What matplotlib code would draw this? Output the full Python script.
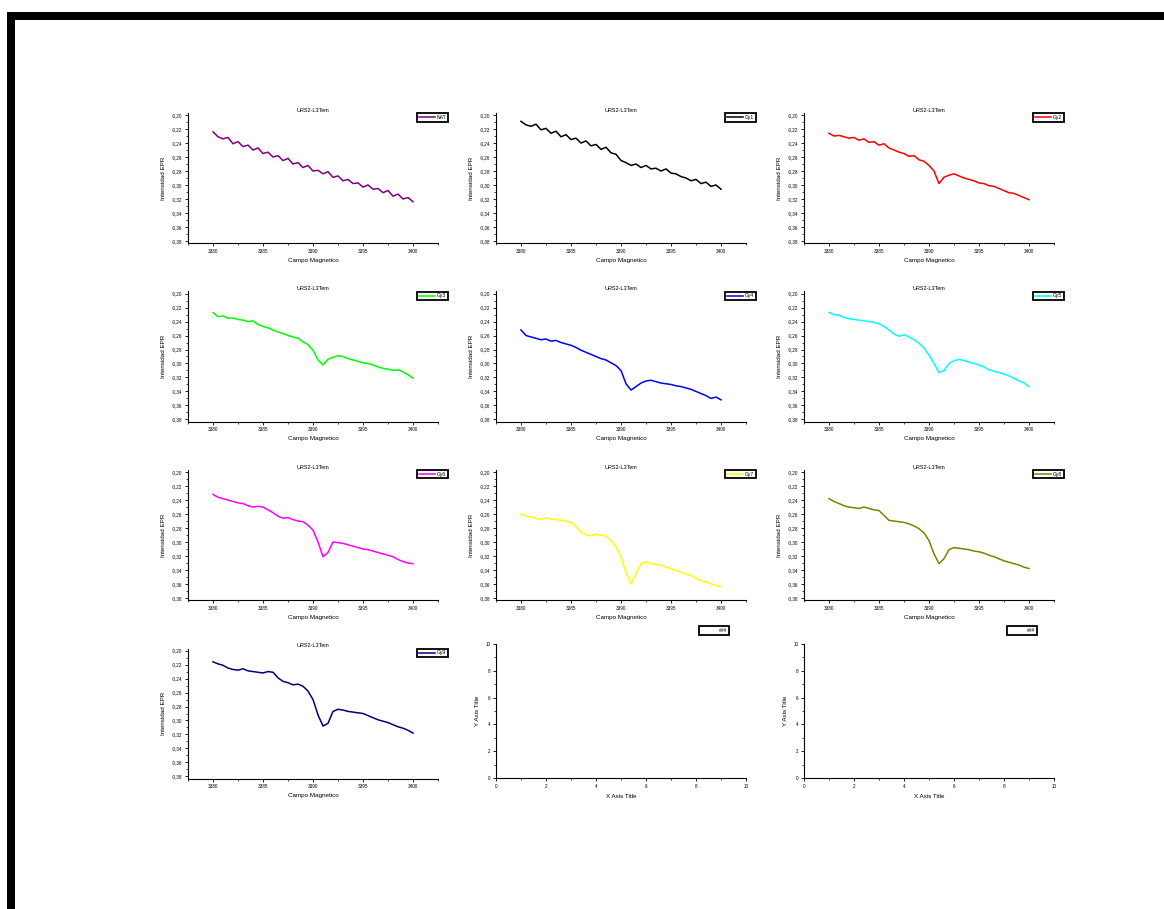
import numpy as np
import matplotlib
matplotlib.use('Agg')
import matplotlib.pyplot as plt
from matplotlib.ticker import MultipleLocator, FuncFormatter
from matplotlib.patches import Rectangle
from matplotlib.lines import Line2D

# campo magnetico (G), one reading every 0.5 G
campo = np.linspace(3380, 3400, 41)

nat = [-0.224, -0.231, -0.234, -0.232, -0.241, -0.238, -0.245, -0.243, -0.250, -0.247,
       -0.255, -0.253, -0.260, -0.258, -0.265, -0.262, -0.270, -0.268, -0.275, -0.272,
       -0.280, -0.279, -0.284, -0.281, -0.289, -0.287, -0.294, -0.292, -0.298, -0.297,
       -0.303, -0.300, -0.306, -0.305, -0.311, -0.308, -0.316, -0.313, -0.320, -0.318,
       -0.324]
gy1 = [-0.209, -0.214, -0.216, -0.213, -0.221, -0.219, -0.226, -0.223, -0.231, -0.228,
       -0.235, -0.233, -0.240, -0.237, -0.244, -0.242, -0.249, -0.246, -0.254, -0.256,
       -0.265, -0.268, -0.272, -0.270, -0.275, -0.272, -0.277, -0.276, -0.280, -0.277,
       -0.283, -0.284, -0.288, -0.290, -0.294, -0.292, -0.298, -0.296, -0.302, -0.300,
       -0.306]
gy2 = [-0.226, -0.230, -0.229, -0.231, -0.233, -0.232, -0.236, -0.234, -0.239, -0.238,
       -0.243, -0.241, -0.247, -0.250, -0.253, -0.255, -0.259, -0.258, -0.264, -0.266,
       -0.272, -0.280, -0.298, -0.289, -0.286, -0.284, -0.287, -0.290, -0.292, -0.294,
       -0.297, -0.298, -0.301, -0.302, -0.305, -0.308, -0.311, -0.312, -0.315, -0.318,
       -0.321]
gy3 = [-0.227, -0.233, -0.232, -0.235, -0.235, -0.237, -0.238, -0.240, -0.239, -0.244,
       -0.247, -0.249, -0.252, -0.255, -0.257, -0.260, -0.262, -0.264, -0.269, -0.273,
       -0.281, -0.295, -0.302, -0.294, -0.291, -0.289, -0.290, -0.293, -0.295, -0.297,
       -0.299, -0.300, -0.302, -0.305, -0.307, -0.308, -0.310, -0.309, -0.312, -0.316,
       -0.321]
gy4 = [-0.252, -0.260, -0.262, -0.264, -0.266, -0.265, -0.268, -0.267, -0.270, -0.272,
       -0.274, -0.277, -0.281, -0.284, -0.287, -0.290, -0.293, -0.295, -0.299, -0.303,
       -0.310, -0.329, -0.338, -0.333, -0.328, -0.325, -0.324, -0.326, -0.328, -0.329,
       -0.330, -0.332, -0.333, -0.335, -0.337, -0.340, -0.343, -0.346, -0.350, -0.348,
       -0.352]
gy5 = [-0.227, -0.230, -0.231, -0.234, -0.236, -0.237, -0.238, -0.239, -0.240, -0.241,
       -0.243, -0.247, -0.252, -0.258, -0.261, -0.259, -0.262, -0.266, -0.271, -0.278,
       -0.288, -0.300, -0.313, -0.310, -0.300, -0.296, -0.294, -0.296, -0.298, -0.300,
       -0.302, -0.305, -0.309, -0.311, -0.313, -0.315, -0.318, -0.321, -0.325, -0.328,
       -0.333]
gy6 = [-0.232, -0.236, -0.238, -0.240, -0.242, -0.244, -0.245, -0.248, -0.250, -0.249,
       -0.250, -0.254, -0.258, -0.263, -0.266, -0.265, -0.268, -0.270, -0.271, -0.276,
       -0.283, -0.300, -0.321, -0.315, -0.300, -0.301, -0.302, -0.304, -0.306, -0.308,
       -0.310, -0.311, -0.313, -0.315, -0.317, -0.319, -0.321, -0.325, -0.328, -0.330,
       -0.331]
gy7 = [-0.260, -0.263, -0.264, -0.266, -0.268, -0.265, -0.267, -0.268, -0.269, -0.270,
       -0.272, -0.278, -0.286, -0.290, -0.291, -0.289, -0.290, -0.292, -0.298, -0.307,
       -0.321, -0.343, -0.360, -0.345, -0.331, -0.328, -0.331, -0.332, -0.333, -0.336,
       -0.338, -0.341, -0.343, -0.346, -0.348, -0.352, -0.355, -0.357, -0.360, -0.362,
       -0.364]
gy8 = [-0.238, -0.242, -0.245, -0.248, -0.250, -0.251, -0.252, -0.250, -0.252, -0.254,
       -0.255, -0.262, -0.269, -0.270, -0.271, -0.272, -0.274, -0.277, -0.281, -0.287,
       -0.298, -0.317, -0.331, -0.324, -0.311, -0.308, -0.309, -0.310, -0.311, -0.313,
       -0.314, -0.316, -0.319, -0.321, -0.324, -0.327, -0.329, -0.331, -0.333, -0.336,
       -0.338]
gy9 = [-0.216, -0.219, -0.221, -0.225, -0.227, -0.228, -0.226, -0.229, -0.230, -0.231,
       -0.232, -0.230, -0.231, -0.239, -0.244, -0.246, -0.249, -0.248, -0.251, -0.258,
       -0.270, -0.292, -0.308, -0.304, -0.287, -0.284, -0.285, -0.287, -0.288, -0.289,
       -0.290, -0.293, -0.296, -0.299, -0.301, -0.303, -0.306, -0.309, -0.311, -0.314,
       -0.318]

series = [nat, gy1, gy2, gy3, gy4, gy5, gy6, gy7, gy8, gy9]
series_names = ['NAT', 'Gy1', 'Gy2', 'Gy3', 'Gy4', 'Gy5', 'Gy6', 'Gy7', 'Gy8', 'Gy9']
series_colors = ['#800080', '#000000', '#ff0000', '#00ff00', '#0000ff',
                 '#00ffff', '#ff00ff', '#ffff00', '#808000', '#000080']

x_ticks = [3380, 3385, 3390, 3395, 3400]
y_ticks = [-0.20, -0.22, -0.24, -0.26, -0.28, -0.30, -0.32, -0.34, -0.36, -0.38]

plt.rcParams['font.family'] = ['Liberation Sans', 'DejaVu Sans']

W, H = 1164, 909
fig = plt.figure(figsize=(W / 100, H / 100), dpi=100)


def px_axes(left, top, width, height):
    return fig.add_axes([left / W, 1 - (top + height) / H, width / W, height / H])


def style_axes(ax):
    ax.spines['top'].set_visible(False)
    ax.spines['right'].set_visible(False)
    for s in ('left', 'bottom'):
        ax.spines[s].set_linewidth(0.8)
    ax.tick_params(which='major', direction='out', length=2.5, width=0.6,
                   labelsize=3.3, pad=1.5)
    ax.tick_params(which='minor', direction='out', length=1.5, width=0.5)


def add_legend(ax, handle, label, right_px, top_px):
    leg = ax.legend([handle], [label], loc='upper right',
                    bbox_to_anchor=(right_px / W, 1 - top_px / H),
                    bbox_transform=fig.transFigure,
                    fontsize=3.6, handlelength=3.2, handletextpad=0.4,
                    borderpad=0.35, borderaxespad=0, fancybox=False,
                    framealpha=1, edgecolor='black')
    leg.get_frame().set_linewidth(1.3)


comma = FuncFormatter(lambda v, p: f'{v:.2f}'.replace('.', ','))

row_step = 178.5
col_step = 308

for i, (vals, name, color) in enumerate(zip(series, series_names, series_colors)):
    r, c = divmod(i, 3)
    left = 188 + col_step * c
    top = 113 + row_step * r
    ax = px_axes(left, top, 250, 130)
    line, = ax.plot(campo, vals, color=color, linewidth=1.1)
    ax.set_xlim(3377.5, 3402.5)
    ax.set_ylim(-0.383, -0.197)
    ax.set_xticks(x_ticks)
    ax.set_yticks(y_ticks)
    ax.xaxis.set_minor_locator(MultipleLocator(2.5))
    ax.yaxis.set_minor_locator(MultipleLocator(0.01))
    ax.yaxis.set_major_formatter(comma)
    style_axes(ax)
    ax.set_title('URS2-L3Tem', fontsize=4, pad=1)
    ax.set_xlabel('Campo Magnetico', fontsize=4.5)
    ax.set_ylabel('Intensidad EPR', fontsize=4.5)
    ax.xaxis.set_label_coords(0.5, -0.115)
    ax.yaxis.set_label_coords(-0.088, 0.5)
    add_legend(ax, line, name, left + 260, top)

# two empty Origin layers at the end of the grid
for c in (1, 2):
    left = 188 + col_step * c
    ax = px_axes(left, 644, 250, 134)
    ax.set_xlim(0, 10)
    ax.set_ylim(0, 10)
    ax.set_xticks([0, 2, 4, 6, 8, 10])
    ax.set_yticks([0, 2, 4, 6, 8, 10])
    ax.xaxis.set_minor_locator(MultipleLocator(1))
    ax.yaxis.set_minor_locator(MultipleLocator(1))
    style_axes(ax)
    ax.set_xlabel('X Axis Title', fontsize=4.5)
    ax.set_ylabel('Y Axis Title', fontsize=4.5)
    ax.xaxis.set_label_coords(0.5, -0.12)
    ax.yaxis.set_label_coords(-0.064, 0.5)
    add_legend(ax, Line2D([], [], color='none'), '###', left + 233, 626)

# thick black page border on top and left
fig.patches.append(Rectangle((7 / W, 0), 8 / W, 1 - 12 / H, transform=fig.transFigure,
                             facecolor='black', edgecolor='none'))
fig.patches.append(Rectangle((7 / W, 1 - 20 / H), 1 - 7 / W, 8 / H, transform=fig.transFigure,
                             facecolor='black', edgecolor='none'))

fig.savefig('out.png', dpi=100, facecolor='white')
